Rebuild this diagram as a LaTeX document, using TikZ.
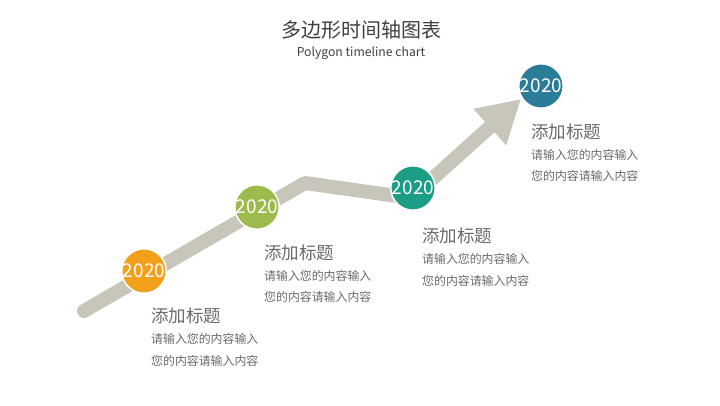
\documentclass[tikz,border=0pt]{standalone}
\usepackage{fontspec}
\setmainfont{Noto Sans CJK SC}
\usepackage{xcolor}
\usepackage{tikz}
\usetikzlibrary{arrows.meta, positioning}

\definecolor{trailgray}{HTML}{C8C6BA}
\definecolor{textgray}{HTML}{6A6A6A}
\definecolor{titlegray}{HTML}{3F3F3F}
\definecolor{yorange}{HTML}{F2A01C}
\definecolor{ygreen}{HTML}{9CBB4C}
\definecolor{yteal}{HTML}{1B9D86}
\definecolor{yblue}{HTML}{2B7C99}

\begin{document}
\begin{tikzpicture}[
    x=1pt, y=-1pt,
    year/.style={circle, draw=white, line width=1.5pt, minimum size=44pt, inner sep=0pt, text=white, font=\fontsize{19}{19}\selectfont},
    heading/.style={anchor=west, inner sep=0pt, text=textgray, font=\fontsize{17.5}{17.5}\selectfont},
    body/.style={anchor=west, inner sep=0pt, text=textgray, font=\fontsize{11.9}{11.9}\selectfont},
    trail/.style={draw=trailgray, line width=14pt, line cap=round, line join=round, -{Triangle[width=46pt,length=42pt]}}
]
\useasboundingbox (0,0) rectangle (720,405);

% Title
\node[text=titlegray, font=\fontsize{20}{20}\selectfont] (title) at (361,30) {多边形时间轴图表};
\node[text=titlegray, font=\fontsize{12.2}{12.2}\selectfont] (subtitle) at (361,53) {Polygon timeline chart};

% Trail with arrow
\coordinate (start) at (84,311);
\coordinate (bendA) at (305,183);
\coordinate (bendB) at (411,198);
\coordinate (tip) at (521,99);
\draw[trail] (start) -- (bendA) -- (bendB) -- (tip);

% Years
\node[year, fill=yorange] (y1) at (144,271) {2020};
\node[year, fill=ygreen] (y2) at (257,207) {2020};
\node[year, fill=yteal] (y3) at (413,188) {2020};
\node[year, fill=yblue] (y4) at (541,86) {2020};

% Captions
\node[heading] (h1) at (151,316) {添加标题};
\node[body] (b1a) at (151,339) {请输入您的内容输入};
\node[body] (b1b) at (151,361) {您的内容请输入内容};

\node[heading] (h2) at (264,253) {添加标题};
\node[body] (b2a) at (264,276) {请输入您的内容输入};
\node[body] (b2b) at (264,297) {您的内容请输入内容};

\node[heading] (h3) at (422,236) {添加标题};
\node[body] (b3a) at (422,259) {请输入您的内容输入};
\node[body] (b3b) at (422,281) {您的内容请输入内容};

\node[heading] (h4) at (531,132) {添加标题};
\node[body] (b4a) at (531,155) {请输入您的内容输入};
\node[body] (b4b) at (531,176) {您的内容请输入内容};

\end{tikzpicture}
\end{document}
